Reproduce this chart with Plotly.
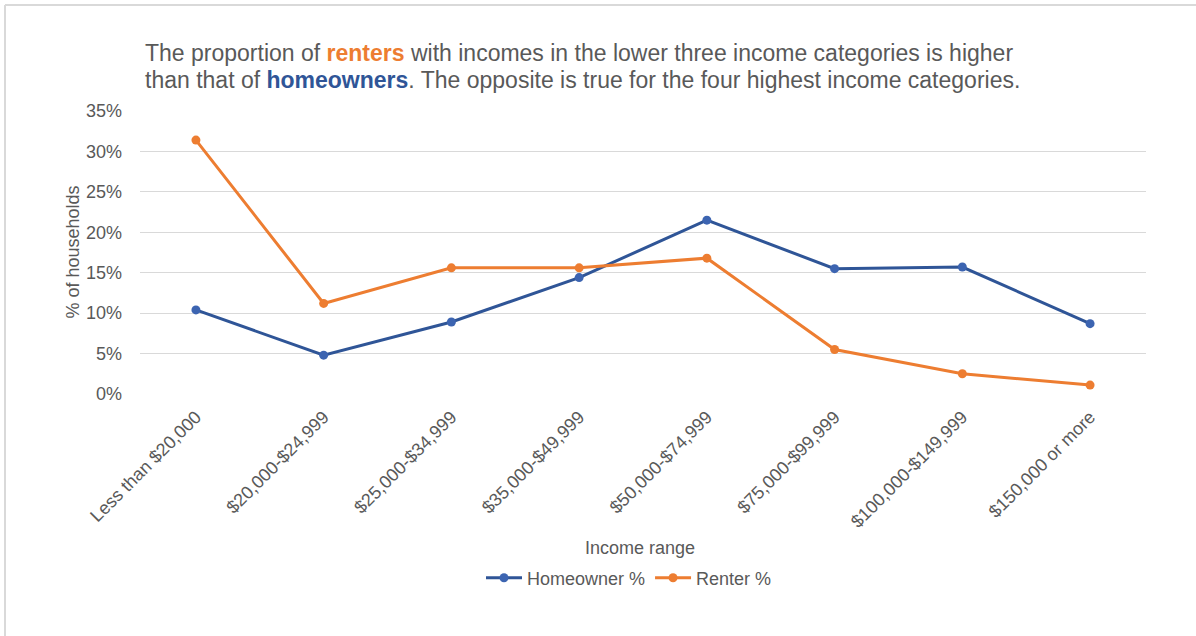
import plotly.graph_objects as go

# Data
categories = ['Less than $20,000', '$20,000-$24,999', '$25,000-$34,999', '$35,000-$49,999',
              '$50,000-$74,999', '$75,000-$99,999', '$100,000-$149,999', '$150,000 or more']
homeowner_pct = [10.4, 4.8, 8.9, 14.4, 21.5, 15.5, 15.7, 8.7]
renter_pct = [31.4, 11.2, 15.6, 15.6, 16.8, 5.5, 2.5, 1.1]
y_ticks = [0, 5, 10, 15, 20, 25, 30, 35]
y_tick_labels = [f'{v}%' for v in y_ticks]

BLUE = '#2F5597'
ORANGE = '#ED7D31'
GREY = '#595959'
FONT = 'Liberation Sans, Arial, sans-serif'

# plot area in pixels
L, R, T, B = 140, 50, 111, 242
W, H = 1196, 636
pw, ph = W - L - R, H - T - B

def px_x(x):
    return (x - L) / pw

def px_y(y):
    return 1 - (y - T) / ph

fig = go.Figure()
fig.add_trace(go.Scatter(
    x=categories, y=homeowner_pct, name='Homeowner %', mode='lines+markers',
    line=dict(color=BLUE, width=3),
    marker=dict(color='#3C64B1', size=9),
))
fig.add_trace(go.Scatter(
    x=categories, y=renter_pct, name='Renter %', mode='lines+markers',
    line=dict(color=ORANGE, width=3),
    marker=dict(color=ORANGE, size=9),
))

line1 = ("The proportion of <b><span style='color:%s'>renters</span></b> "
         "with incomes in the lower three income categories is higher") % ORANGE
line2 = ("than that of <b><span style='color:%s'>homeowners</span></b>. "
         "The opposite is true for the four highest income categories.") % BLUE

fig.update_layout(
    width=W, height=H,
    margin=dict(l=L, r=R, t=T, b=B),
    paper_bgcolor='white', plot_bgcolor='white',
    font=dict(family=FONT, color=GREY, size=18),
    showlegend=True,
    legend=dict(orientation='h', x=px_x(629), xanchor='center',
                y=px_y(578), yanchor='middle', font=dict(size=18, color=GREY),
                itemwidth=36, tracegroupgap=0),
    xaxis=dict(showgrid=False, showline=False, zeroline=False, tickangle=-45,
               tickfont=dict(size=18, color=GREY), ticks='', fixedrange=True,
               ticklabelstandoff=8),
    yaxis=dict(range=[0, 35], tickvals=y_ticks, ticktext=y_tick_labels,
               showgrid=True, gridcolor='#D9D9D9', gridwidth=1,
               zeroline=False, showline=False, ticks='',
               tickfont=dict(size=18, color=GREY), ticklabelstandoff=17),
    annotations=[
        dict(xref='paper', yref='paper', x=px_x(143), y=px_y(53), xanchor='left', yanchor='middle',
             align='left', showarrow=False, font=dict(size=23, color=GREY), text=line1),
        dict(xref='paper', yref='paper', x=px_x(143), y=px_y(80), xanchor='left', yanchor='middle',
             align='left', showarrow=False, font=dict(size=23, color=GREY), text=line2),
        dict(xref='paper', yref='paper', x=px_x(72), y=0.5, textangle=-90,
             xanchor='center', yanchor='middle',
             showarrow=False, text='% of households', font=dict(size=18, color=GREY)),
        dict(xref='paper', yref='paper', x=px_x(640), y=px_y(548),
             xanchor='center', yanchor='middle',
             showarrow=False, text='Income range', font=dict(size=18, color=GREY)),
    ],
    shapes=[
        dict(type='line', xref='paper', yref='paper', x0=px_x(5), x1=px_x(1200),
             y0=px_y(5), y1=px_y(5), line=dict(color='#D9D9D9', width=2)),
        dict(type='line', xref='paper', yref='paper', x0=px_x(5), x1=px_x(5),
             y0=px_y(5), y1=px_y(640), line=dict(color='#D9D9D9', width=2)),
    ],
)

fig.write_html('out.html', config={'displayModeBar': False},
               post_script="document.body.style.margin='0';")
